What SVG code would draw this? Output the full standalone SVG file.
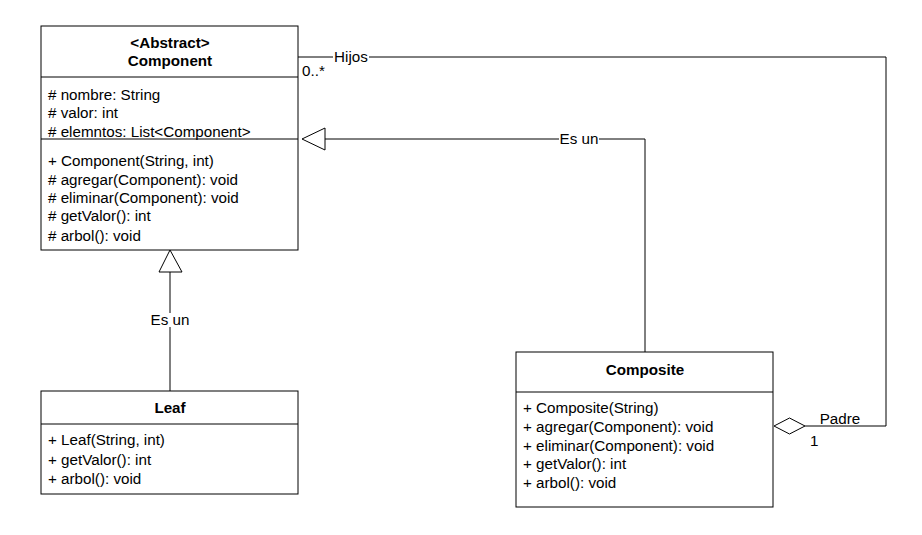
<svg xmlns="http://www.w3.org/2000/svg" width="922" height="535" viewBox="0 0 922 535">
<style>
.box{fill:#fff;stroke:#000;stroke-width:1}
.ln{fill:none;stroke:#000;stroke-width:1}
text{font-family:"Liberation Sans",Arial,sans-serif;font-size:15.2px;fill:#000}
.b{font-weight:bold;text-anchor:middle}
.c{text-anchor:middle}
.lbg{fill:#fff}
</style>
<rect width="922" height="535" fill="#fff"/>
<g id="connectors">
  <polyline class="ln" points="298,57 886,57 886,426 805,426"/>
  <rect class="lbg" x="333" y="50" width="36" height="14"/>
  <text class="c" x="351" y="62">Hijos</text>
  <text x="302" y="76">0..*</text>
  <polygon class="box" points="774,426 789.5,418 805,426 789.5,434"/>
  <rect class="lbg" x="820" y="412" width="40" height="13"/>
  <text class="c" x="840" y="424">Padre</text>
  <text x="810" y="446">1</text>
  <polyline class="ln" points="645,352 645,139 325,139"/>
  <polygon class="box" points="302,139 325,128 325,150"/>
  <rect class="lbg" x="559" y="132" width="40" height="14"/>
  <text class="c" x="579" y="144">Es un</text>
  <line class="ln" x1="170" y1="391" x2="170" y2="272"/>
  <polygon class="box" points="170,250 159,272 182,272"/>
  <rect class="lbg" x="149" y="313" width="42" height="14"/>
  <text class="c" x="170" y="325">Es un</text>
</g>
<g id="component">
  <rect class="box" x="41" y="26" width="257" height="224"/>
  <line class="ln" x1="41" y1="77" x2="298" y2="77"/>
  <line class="ln" x1="41" y1="139" x2="298" y2="139"/>
  <text class="b" x="170" y="48">&lt;Abstract&gt;</text>
  <text class="b" x="170" y="66">Component</text>
  <text x="48" y="100"># nombre: String</text>
  <text x="48" y="118"># valor: int</text>
  <text x="48" y="137"># elemntos: List&lt;Component&gt;</text>
  <text x="48" y="166">+ Component(String, int)</text>
  <text x="48" y="185"># agregar(Component): void</text>
  <text x="48" y="203"># eliminar(Component): void</text>
  <text x="48" y="221"># getValor(): int</text>
  <text x="48" y="241"># arbol(): void</text>
</g>
<g id="leaf">
  <rect class="box" x="41" y="391" width="257" height="103"/>
  <line class="ln" x1="41" y1="424" x2="298" y2="424"/>
  <text class="b" x="170" y="413">Leaf</text>
  <text x="48" y="445">+ Leaf(String, int)</text>
  <text x="48" y="465">+ getValor(): int</text>
  <text x="48" y="484">+ arbol(): void</text>
</g>
<g id="composite">
  <rect class="box" x="516" y="352" width="257" height="155"/>
  <line class="ln" x1="516" y1="392" x2="773" y2="392"/>
  <text class="b" x="645" y="375">Composite</text>
  <text x="523" y="413">+ Composite(String)</text>
  <text x="523" y="432">+ agregar(Component): void</text>
  <text x="523" y="451">+ eliminar(Component): void</text>
  <text x="523" y="469">+ getValor(): int</text>
  <text x="523" y="488">+ arbol(): void</text>
</g>
</svg>
